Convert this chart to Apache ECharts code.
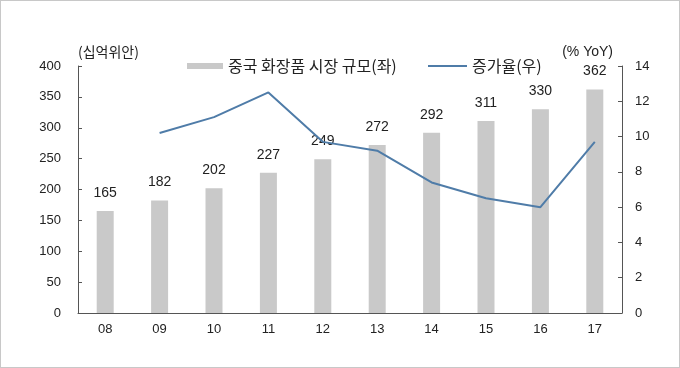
<!DOCTYPE html>
<html><head><meta charset="utf-8">
<script src="https://cdn.jsdelivr.net/npm/echarts@6/dist/echarts.min.js"></script>
<style>html,body{margin:0;padding:0;background:#fff}
#frame{position:absolute;left:0;top:0;width:678px;height:366px;border:1px solid #c8c8c8}
#c{width:680px;height:368px;position:absolute;left:0;top:0}</style>
</head><body><div id="frame"></div><div id="c"></div>
<script>
const categories = ['08','09','10','11','12','13','14','15','16','17'];
const marketSize = [165,182,202,227,249,272,292,311,330,362];
const growthRate = [null,10.2,11.1,12.5,9.7,9.2,7.4,6.5,6.0,9.7];
const leftTicks = [0,400,50];
const rightTicks = [0,14,2];
const barName = '중국 화장품 시장 규모(좌)';
const lineName = '증가율(우)';
const font = "'Liberation Sans', Arial, 'Noto Sans CJK KR', sans-serif";
const korFont = "'Noto Sans CJK KR', 'Liberation Sans', sans-serif";
const chart = echarts.init(document.getElementById('c'));
chart.setOption({
  animation:false,
  textStyle:{fontFamily:font},
  grid:{left:78,right:58,top:66,bottom:55},
  legend:[
    {top:53,left:182,itemWidth:36,itemHeight:6,icon:'rect',
     textStyle:{fontSize:16,color:'#222',fontFamily:korFont},
     data:[barName]},
    {top:53,left:423,itemWidth:39,itemHeight:2,
     icon:'path://M0,0 L39,0 L39,2 L0,2 Z',
     textStyle:{fontSize:16,color:'#222',fontFamily:korFont},
     data:[lineName]}
  ],
  xAxis:{type:'category',data:categories,
    axisLine:{lineStyle:{color:'#555'}},
    axisTick:{inside:true,length:4,lineStyle:{color:'#555'}},
    axisLabel:{color:'#222',fontSize:13,margin:10}},
  yAxis:[
    {type:'value',min:leftTicks[0],max:leftTicks[1],interval:leftTicks[2],
     name:'(십억위안)',nameLocation:'end',nameGap:7,
     nameTextStyle:{color:'#222',fontSize:14,align:'left',fontFamily:korFont},
     axisLine:{show:true,lineStyle:{color:'#555'}},
     axisTick:{show:true,inside:true,length:4,lineStyle:{color:'#555'}},
     splitLine:{show:false},axisLabel:{color:'#222',fontSize:13,margin:17}},
    {type:'value',min:rightTicks[0],max:rightTicks[1],interval:rightTicks[2],
     name:'(% YoY)',nameLocation:'end',nameGap:7,
     nameTextStyle:{color:'#222',fontSize:14,align:'right',padding:[0,9,0,0]},
     axisLine:{show:true,lineStyle:{color:'#555'}},
     axisTick:{show:true,inside:true,length:4,lineStyle:{color:'#555'}},
     splitLine:{show:false},axisLabel:{color:'#222',fontSize:13,margin:13}}
  ],
  series:[
    {name:barName,type:'bar',data:marketSize,barWidth:17,
     itemStyle:{color:'#c9c9c9'},
     label:{show:true,position:'top',distance:11,color:'#222',fontSize:14}},
    {name:lineName,type:'line',yAxisIndex:1,data:growthRate,
     symbol:'none',lineStyle:{color:'#4f7ca8',width:2},itemStyle:{color:'#4f7ca8'}}
  ]
});
</script></body></html>
